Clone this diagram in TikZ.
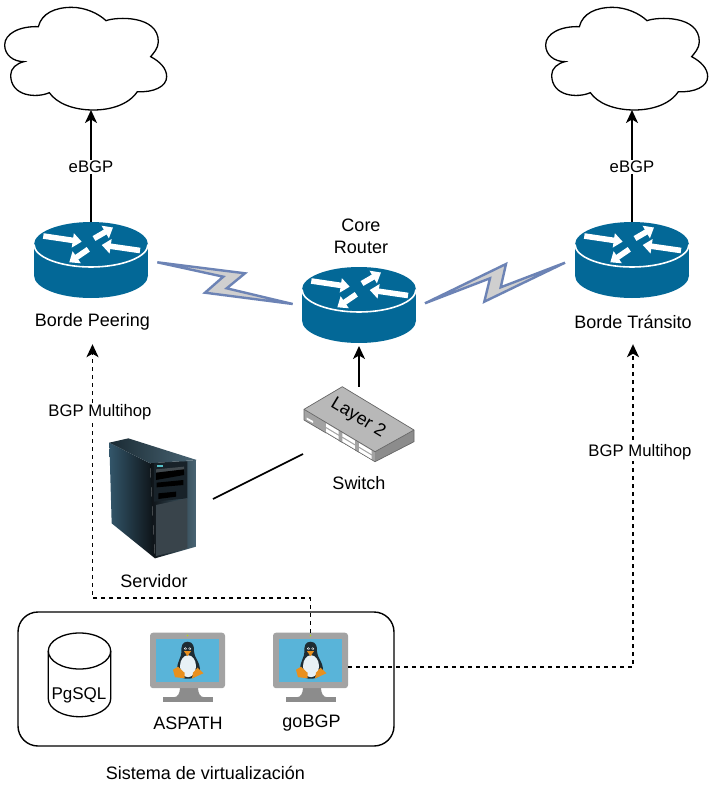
\documentclass[tikz,border=0pt]{standalone}
\usepackage{fontspec}
\setmainfont{Liberation Sans}
\usetikzlibrary{arrows.meta}
\definecolor{routerblue}{HTML}{036897}
\definecolor{boltline}{HTML}{6C83B5}
\definecolor{boltfill}{HTML}{CFCFCF}
\definecolor{bezel}{HTML}{A3A3A3}
\definecolor{standgray}{HTML}{8C8C8C}
\definecolor{screenblue}{HTML}{59B4D9}
\definecolor{tuxdark}{HTML}{1E2C33}
\definecolor{tuxbelly}{HTML}{E8F1F5}
\definecolor{tuxorange}{HTML}{E8901E}
\definecolor{srvA}{HTML}{33566A}
\definecolor{srvB}{HTML}{0C1115}
\definecolor{srvC}{HTML}{1A2A33}
\definecolor{srvD}{HTML}{4A6675}
\definecolor{srvE}{HTML}{182229}
\definecolor{srvF}{HTML}{39444B}
\definecolor{srvG}{HTML}{56C0C8}
\tikzset{
  x=1pt,y=-1pt,
  lbl/.style={font=\fontsize{18}{22}\selectfont,inner sep=0pt,text=black,align=center},
  lblsmall/.style={font=\fontsize{16.7}{20}\selectfont,fill=white,inner sep=1.5pt,text=black,align=center},
  box/.style={inner sep=0pt,outer sep=0pt,minimum width=#1},
  conn/.style={draw=black,line width=1.6pt},
  arrowconn/.style={conn,-{Stealth[length=13pt,width=12pt,inset=3.5pt]}},
  dashconn/.style={arrowconn,line width=1.8pt,dash pattern=on 4pt off 4pt},
  bolt/.style={draw=boltline,fill=boltfill,line width=2.4pt,line join=miter},
  whitearrow/.style={draw=white,line width=5.6pt,-{Triangle[length=9pt,width=14pt,sep=0pt]}},
}
\newcommand{\routerglyph}[2]{%
  \begin{scope}[shift={(#1,#2)}]
    \fill[routerblue] (-57,22.5) rectangle (57,53.5);
    \fill[routerblue] (0,53.5) ellipse [x radius=57,y radius=22.5];
    \fill[routerblue] (0,22.5) ellipse [x radius=57,y radius=22.5];
    \draw[white,line width=1.6pt] (-57,22.5) .. controls (-57,35) and (-31,45) .. (0,45) .. controls (31,45) and (57,35) .. (57,22.5);
    \draw[whitearrow] (-47.7,14) -- (-9.3,19.7);
    \draw[whitearrow] (3,16.5) -- (22,5.5);
    \draw[whitearrow] (49,28.5) -- (10.7,23);
    \draw[whitearrow] (-2.7,27.3) -- (-21.7,40.3);
  \end{scope}}
\newcommand{\cloudglyph}[2]{%
  \begin{scope}[shift={(#1,#2)},scale=1/3]
    \draw[black,line width=1.3pt,fill=white]
      (115,80) .. controls (125,40) and (165,22) .. (215,22)
      .. controls (255,22) and (295,40) .. (318,62)
      .. controls (350,50) and (475,45) .. (475,125)
      .. controls (475,145) and (460,160) .. (452,170)
      .. controls (480,185) and (500,205) .. (500,230)
      .. controls (500,260) and (460,278) .. (412,275)
      .. controls (385,315) and (330,330) .. (280,330)
      .. controls (220,330) and (170,310) .. (148,278)
      .. controls (110,295) and (32,290) .. (32,225)
      .. controls (32,205) and (50,190) .. (72,185)
      .. controls (40,185) and (14,165) .. (14,135)
      .. controls (14,100) and (60,78) .. (115,80) -- cycle;
  \end{scope}}
\newcommand{\monitorglyph}[2]{%
  \begin{scope}[shift={(#1,#2)}]
    \fill[standgray] (30,55) -- (48,55) .. controls (48,60) and (50,64.5) .. (54,64.5) -- (24,64.5) .. controls (28,64.5) and (30,60) .. (30,55) -- cycle;
    \fill[standgray] (13.3,64.5) rectangle (62.7,69);
    \fill[bezel,rounded corners=3pt] (0,0) rectangle (75,55.5);
    \fill[screenblue] (6,6.3) rectangle (69.3,49);
    \fill[yellow!70!green] (37.5,2.8) circle (0.9);
    \fill[tuxdark] (37.5,9) .. controls (32,9) and (31,14) .. (31.5,19) .. controls (31.5,24) and (27,30) .. (27,36) .. controls (27,42) and (30,46) .. (37.5,46) .. controls (45,46) and (50,42) .. (50,36) .. controls (50,30) and (44,24) .. (44,19) .. controls (44.5,14) and (43,9) .. (37.5,9) -- cycle;
    \fill[tuxbelly] (38,33.5) ellipse [x radius=8,y radius=11];
    \fill[white] (35.4,16) circle (1.4);
    \fill[white] (39.8,16) circle (1.4);
    \fill[tuxdark] (35.6,16.2) circle (0.7);
    \fill[tuxdark] (39.6,16.2) circle (0.7);
    \fill[tuxorange] (34,18.5) -- (41,18.5) -- (37.5,23.5) -- cycle;
    \fill[tuxorange] (23,37) -- (28,34) -- (34.5,40) -- (34.5,45.5) -- (25,44.5) -- cycle;
    \fill[tuxorange] (42,45.8) -- (43,40) -- (47.5,35) -- (53.5,40.5) -- cycle;
  \end{scope}}
\begin{document}
\begin{tikzpicture}
\useasboundingbox (0,0) rectangle (712,790);
\fill[white] (0,0) rectangle (712,790);

% clouds
\cloudglyph{0}{0}
\cloudglyph{541}{0}
\node[box=162,minimum height=103] (cloudA) at (91,58.5) {};
\node[box=162,minimum height=103] (cloudB) at (632,58.5) {};

% routers
\routerglyph{91}{222}
\routerglyph{632}{222}
\routerglyph{359}{267}
\node[box=114,minimum height=76] (peer) at (91,260) {};
\node[box=114,minimum height=76] (transit) at (632,260) {};
\node[box=114,minimum height=76] (core) at (359,305) {};

% lightning bolts
\draw[bolt] (157.3,262.3) -- (245,273.3) -- (226.7,288.3) -- (292.7,304) -- (205,292.7) -- (223.3,276.7) -- cycle;
\draw[bolt] (425,303.3) -- (506,264) -- (500.7,287.3) -- (565,262.7) -- (484.3,301.7) -- (490,278.3) -- cycle;

% switch
\fill[bezel] (304,409.3) -- (375,451.7) -- (375,461.7) -- (304,420) -- cycle;
\fill[standgray] (375,451.7) -- (414,430) -- (414,441.7) -- (375,461.7) -- cycle;
\fill[black!28!white] (342.3,386.7) -- (414,430) -- (375,451.7) -- (304,409.3) -- cycle;
\draw[black!60!white,line width=0.7pt,line join=round] (342.3,386.7) -- (414,430) -- (414,441.7) -- (375,461.7) -- (304,420) -- (304,409.3) -- cycle;
\draw[black!60!white,line width=0.7pt] (304,409.3) -- (375,451.7) -- (414,430);
\fill[white] (306.7,417.5) -- (313,421) -- (313,423) -- (306.7,419.5) -- cycle;
\foreach \cx/\cy in {326/423.3,342.3/433,359/443}{
  \foreach \r in {0,5,10}{
    \fill[white] (\cx,\cy+\r) -- (\cx+12.5,\cy+\r+7.5) -- (\cx+12.5,\cy+\r+11) -- (\cx,\cy+\r+3.5) -- cycle;
  }
}
\node[lbl,rotate=-31] at (358,418) {Layer 2};
\node[box=110,minimum height=75] (swi) at (359,424) {};
\node[lbl] (swilbl) at (359,483) {Switch};

% server
\begin{scope}[shift={(100,430)},scale=1/3]
  \shade[left color=srvA,right color=srvB] (28,38) -- (150,100) -- (165,385) -- (35,280) -- cycle;
  \shade[left color=srvC,right color=srvD] (28,38) -- (85,25) -- (290,90) -- (150,100) -- cycle;
  \shade[left color=srvB,middle color=srvB,right color=srvD] (150,100) -- (290,90) -- (288,350) -- (165,385) -- cycle;
  \fill[srvE] (162,100) -- (262,94) -- (262,205) -- (162,215) -- cycle;
  \fill[srvG] (170,105) rectangle (190,111);
  \fill[srvC!70!white!70!black] (168,118) -- (252,110) -- (252,125) -- (168,135) -- cycle;
  \fill[black] (168,128) -- (252,118) -- (252,135) -- (168,150) -- cycle;
  \fill[black] (170,158) -- (250,150) -- (250,165) -- (170,172) -- cycle;
  \fill[black] (175,190) -- (228,185) -- (228,200) -- (175,207) -- cycle;
  \fill[srvF] (168,225) -- (262,205) -- (262,355) -- (168,378) -- cycle;
\end{scope}
\node[box=88,minimum height=120] (server) at (153,498) {};
\node[lbl] (srvlbl) at (154,581) {Servidor};
\coordinate (srvport) at (213,499);
\coordinate (swiport) at (303,454);

% virtualization box
\draw[black,line width=1.4pt,rounded corners=20pt,fill=white] (18,612) rectangle (394,746);
\node[box=376,minimum height=134] (vbox) at (206,679) {};
\node[lbl] (vlbl) at (205.5,773) {Sistema de virtualización};

% database
\draw[black,line width=1.3pt,fill=white] (48.3,651) -- (48.3,698.7) .. controls (48.3,708.6) and (62.3,716.7) .. (79.5,716.7) .. controls (96.7,716.7) and (110.7,708.6) .. (110.7,698.7) -- (110.7,651);
\draw[black,line width=1.3pt] (79.5,651) ellipse [x radius=31.2,y radius=18];
\node[lbl,font=\fontsize{17}{20}\selectfont] (db) at (79,695) {PgSQL};

% monitors
\monitorglyph{150}{632.7}
\monitorglyph{273}{632.7}
\node[box=75,minimum height=69] (mon1) at (187.5,667.2) {};
\node[box=75,minimum height=69] (mon2) at (310.5,667.2) {};
\node[lbl] (asp) at (188,723) {ASPATH};
\node[lbl] (gob) at (311.5,723) {goBGP};

% router labels (tall boxes: connectors stop at their lower edge)
\node[lbl,minimum height=44pt] (peerlbl) at (92.5,322) {Borde Peering};
\node[lbl,minimum height=44pt] (translbl) at (633,322) {Borde Tránsito};
\node[lbl] (corelbl) at (361,236) {Core\\Router};

% connectors
\draw[arrowconn] (peer.north) -- (cloudA.south) node[lblsmall,midway,yshift=-1pt] (e1) {eBGP};
\draw[arrowconn] (transit.north) -- (cloudB.south) node[lblsmall,midway,yshift=-1pt] (e2) {eBGP};
\draw[arrowconn,shorten >=3pt] (swi.north) -- (core.south);
\draw[conn] (srvport) -- (swiport);
\draw[dashconn] (mon2.north) -- ++(0,-34.7) -| (peerlbl.south);
\draw[dashconn] (mon2.east) -| (translbl.south);
\node[lblsmall] (m1) at (100,412) {BGP Multihop};
\node[lblsmall] (m2) at (640,452) {BGP Multihop};
\end{tikzpicture}
\end{document}
